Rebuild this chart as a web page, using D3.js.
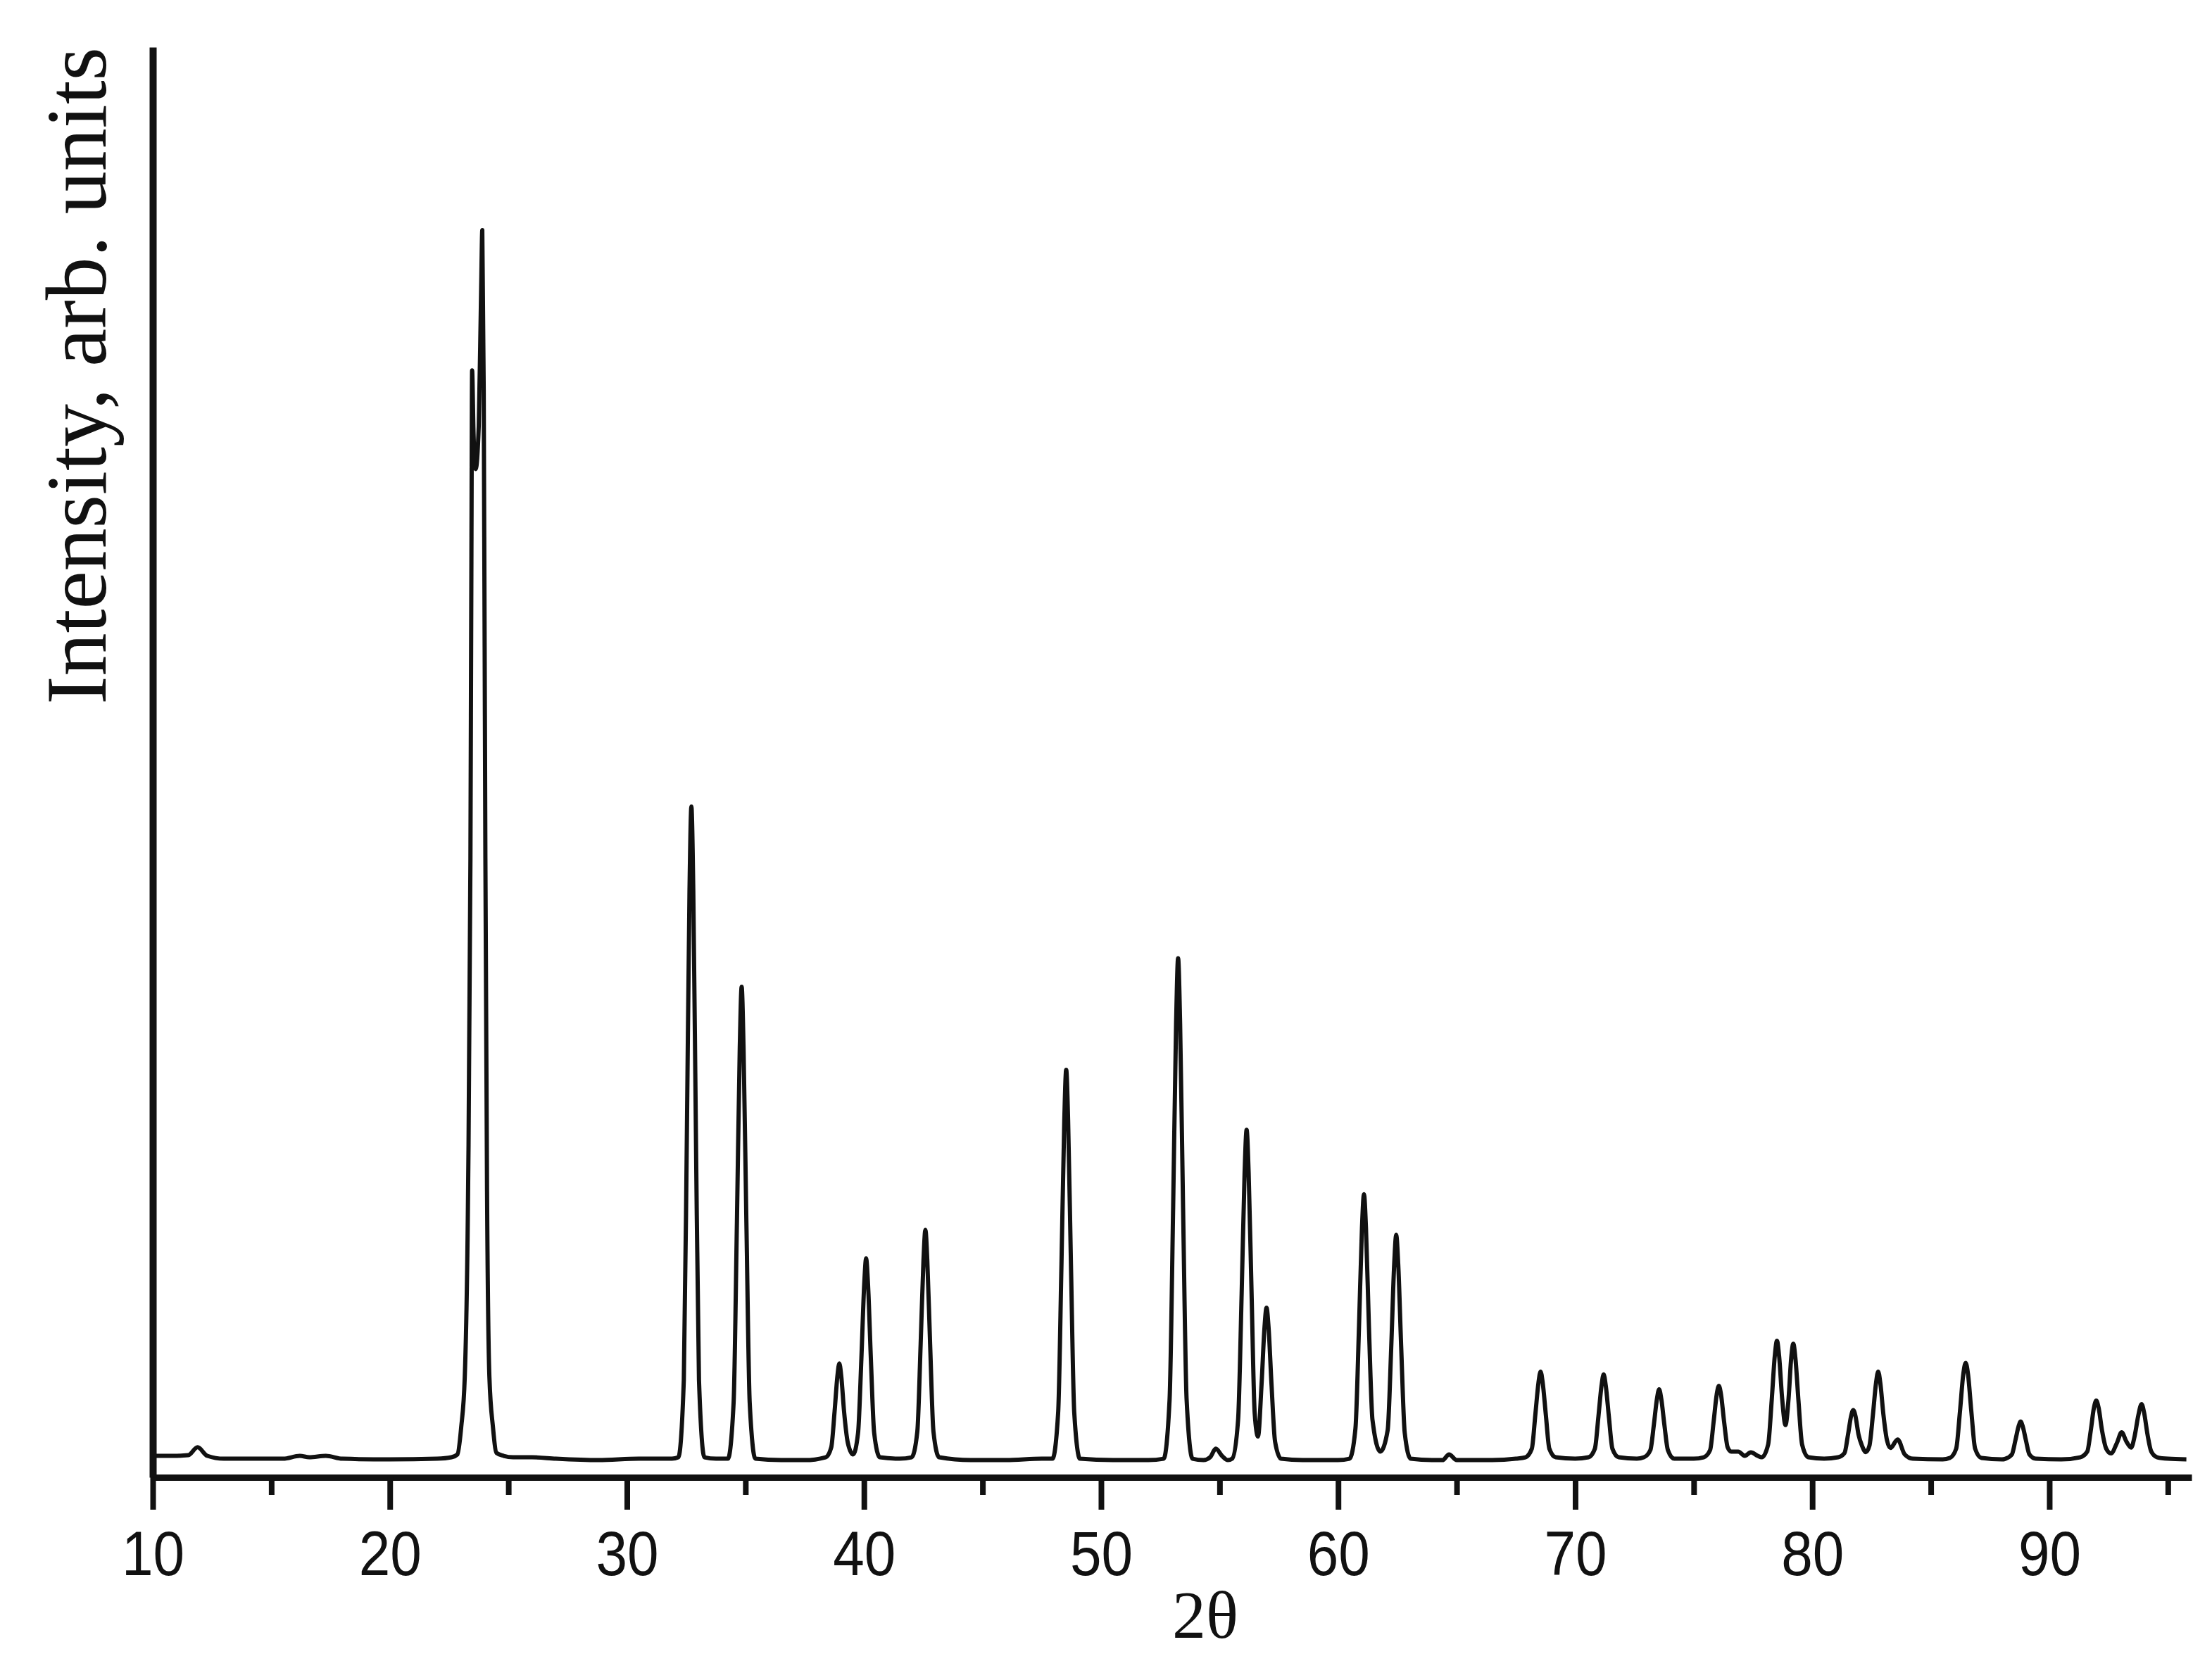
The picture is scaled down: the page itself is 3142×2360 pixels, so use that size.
<!DOCTYPE html>
<html>
<head>
<meta charset="utf-8">
<script src="https://cdn.jsdelivr.net/npm/d3@7"></script>
<style>
  html, body { margin: 0; padding: 0; background: #fff; }
  svg { display: block; }
</style>
</head>
<body>
<script>
// ---- data ----
const twoTheta = [
  10.00, 10.90, 11.50, 11.89, 12.30, 13.00, 14.50, 15.50, 16.20, 16.60, 17.30, 18.00, 20.00, 22.00, 22.60,
  22.85, 23.01, 23.16, 23.30, 23.40, 23.44, 23.47, 23.53, 23.62, 23.75, 23.85, 23.90, 23.96, 24.03, 24.10, 24.20, 24.35, 24.50, 24.80,
  25.20, 26.00, 27.00, 28.80, 30.50, 31.90,
  32.17, 32.40, 32.53, 32.64, 32.72, 32.80, 32.91, 33.04, 33.27, 33.76,
  34.26, 34.50, 34.64, 34.76, 34.84, 34.92, 35.04, 35.18, 35.42, 36.50, 37.50,
  38.38, 38.62, 38.76, 38.88, 38.96, 39.04, 39.16, 39.32, 39.54,
  39.75, 39.89, 40.01, 40.09, 40.17, 40.29, 40.43, 40.67, 41.50,
  42.01, 42.25, 42.39, 42.51, 42.59, 42.67, 42.79, 42.93, 43.17, 44.50, 46.00, 47.50,
  47.95, 48.19, 48.33, 48.45, 48.53, 48.61, 48.73, 48.87, 49.11, 50.50, 52.00,
  52.64, 52.89, 53.04, 53.165, 53.25, 53.335, 53.46, 53.61, 53.86, 54.32, 54.60, 54.84, 55.10, 55.35,
  55.53, 55.78, 55.93, 56.055, 56.14, 56.225, 56.35, 56.48, 56.62,
  56.77, 56.895, 56.98, 57.065, 57.19, 57.34, 57.59, 58.50, 60.00,
  60.48, 60.73, 60.88, 61.005, 61.09, 61.175, 61.30, 61.45, 61.78,
  62.09, 62.24, 62.365, 62.45, 62.535, 62.66, 62.81, 63.06, 64.00, 64.40, 64.68, 65.00, 66.50, 67.50,
  67.90, 68.17, 68.32, 68.45, 68.54, 68.63, 68.76, 68.91, 69.18, 70.00,
  70.56, 70.83, 70.98, 71.11, 71.20, 71.29, 71.42, 71.57, 71.84, 72.60,
  72.90, 73.17, 73.32, 73.45, 73.54, 73.63, 73.76, 73.91, 74.18, 75.00,
  75.42, 75.69, 75.84, 75.97, 76.06, 76.15, 76.28, 76.43, 76.58, 76.88, 77.15, 77.41, 77.70,
  77.87, 78.14, 78.29, 78.42, 78.51, 78.60, 78.73, 78.87, 79.00, 79.11, 79.20, 79.29, 79.42, 79.57, 79.84, 80.50,
  81.09, 81.36, 81.51, 81.64, 81.73, 81.82, 81.95, 82.10, 82.26,
  82.41, 82.56, 82.69, 82.78, 82.87, 83.00, 83.15, 83.30, 83.60, 83.90, 84.24, 85.50,
  85.80, 86.07, 86.23, 86.37, 86.47, 86.57, 86.71, 86.87, 87.14, 88.00,
  88.15, 88.42, 88.57, 88.70, 88.79, 88.88, 89.01, 89.16, 89.43, 90.50,
  91.30, 91.60, 91.75, 91.88, 91.98, 92.08, 92.22, 92.40, 92.60, 92.85, 93.05, 93.25, 93.45,
  93.60, 93.75, 93.89, 94.00, 94.14, 94.30, 94.55, 95.00, 95.78
];
const intensity = [
  15, 15, 15.5, 21, 15, 13, 13, 13, 15, 14, 15, 13, 12.5, 13, 14,
  16, 35, 70, 200, 433, 640, 774, 730, 705, 735, 830, 872, 760, 433, 200, 70, 35, 17, 15,
  14, 14, 13, 12, 13, 13,
  14, 68, 241, 410, 469, 410, 241, 68, 14, 13,
  13, 52, 178, 300, 343, 300, 178, 52, 13, 12, 12,
  14, 21, 46, 71, 79.6, 71, 46, 24, 16,
  31, 83, 135, 153, 135, 83, 31, 14, 13,
  14, 32, 93, 152, 173, 152, 93, 32, 14, 12, 12, 13,
  13, 45, 149, 250, 285, 250, 149, 45, 13, 12, 12,
  13, 54, 188, 317, 363, 317, 188, 54, 13, 12, 14, 20, 15, 12,
  13, 40, 128, 213, 243, 213, 128, 45, 28.5,
  65, 105, 118.6, 105, 65, 25, 13, 12, 12,
  13, 34, 105, 174, 198, 174, 105, 40, 18,
  33, 91, 149, 169.5, 149, 91, 31, 13, 12, 12, 16, 12, 12, 13,
  14, 20, 44, 66, 74, 66, 44, 20, 14, 13,
  14, 20, 42.5, 64, 72, 64, 42.5, 20, 14, 13,
  14, 19, 37, 55, 61.5, 55, 37, 19, 13, 13,
  14, 19, 39, 58, 64, 58, 39, 21, 18, 18, 15, 17.5, 15,
  14, 23, 54, 85, 95.5, 85, 55, 36.5, 55, 83, 93.4, 83, 53, 23, 14, 13,
  14, 17, 30, 43, 47, 43, 30, 22, 17.6,
  22, 44, 66, 74, 66, 44, 26, 20.5, 26.5, 16, 13, 12.5,
  13.5, 20, 46, 72, 80, 72, 46, 20, 13.5, 12.5,
  13, 16, 26, 35.5, 39, 35.5, 26, 16, 13, 12.5,
  14, 18, 33, 48.5, 53.6, 48.5, 33, 20, 16.7, 24, 31.5, 25, 20.8,
  29, 43, 51.2, 45, 30, 18, 14, 13, 12.6
];
const majorTicks = [10, 20, 30, 40, 50, 60, 70, 80, 90];
const minorTicks = [15, 25, 35, 45, 55, 65, 75, 85, 95];
const xTitle = "2θ";
const yTitle = "Intensity, arb. units";

// ---- drawing ----
const W = 3142, H = 2360;
const svg = d3.select("body").append("svg")
  .attr("width", W).attr("height", H)
  .attr("viewBox", `0 0 ${W} ${H}`);
svg.append("rect").attr("width", W).attr("height", H).attr("fill", "#fff");

const x = d3.scaleLinear().domain([10, 96]).range([217, 3113]);
const y = d3.scaleLinear().domain([0, 1000]).range([2099, 67]);

const pts = twoTheta.map((t, i) => [t, intensity[i]]);

// trace
svg.append("path")
  .datum(pts)
  .attr("fill", "none")
  .attr("stroke", "#111")
  .attr("stroke-width", 6)
  .attr("stroke-linejoin", "round")
  .attr("d", d3.line().x(d => x(d[0])).y(d => y(d[1])).curve(d3.curveMonotoneX));

// minor ticks
const minorAxis = d3.axisBottom(x).tickValues(minorTicks).tickSize(25).tickSizeOuter(0).tickFormat("");
const gMinor = svg.append("g").attr("transform", `translate(0,${y(0)})`).call(minorAxis);
gMinor.select(".domain").remove();
gMinor.selectAll(".tick line").attr("stroke", "#111").attr("stroke-width", 8);

// major ticks + labels
const majorAxis = d3.axisBottom(x).tickValues(majorTicks).tickSize(46).tickSizeOuter(0).tickPadding(30).tickFormat(d3.format("d"));
const gMajor = svg.append("g").attr("transform", `translate(0,${y(0)})`).call(majorAxis);
gMajor.select(".domain").attr("stroke", "#111").attr("stroke-width", 9);
gMajor.selectAll(".tick line").attr("stroke", "#111").attr("stroke-width", 8);
gMajor.selectAll(".tick text")
  .attr("fill", "#111")
  .style("font-family", "Arial, 'Liberation Sans', sans-serif")
  .style("font-size", "89px")
  .attr("transform", "scale(0.9,1)");

// y axis (line only)
const yAxis = d3.axisLeft(y).tickValues([]).tickSizeOuter(0);
const gY = svg.append("g").attr("transform", `translate(${x(10)},0)`).call(yAxis);
gY.select(".domain").attr("stroke", "#111").attr("stroke-width", 10);

// titles
svg.append("text")
  .attr("x", 1712).attr("y", 2327)
  .attr("text-anchor", "middle")
  .attr("fill", "#111")
  .style("font-family", "'Times New Roman', 'Liberation Serif', serif")
  .style("font-size", "96px")
  .text(xTitle);

svg.append("text")
  .attr("transform", `translate(150,67) rotate(-90)`)
  .attr("text-anchor", "end")
  .attr("fill", "#111")
  .style("font-family", "'Times New Roman', 'Liberation Serif', serif")
  .style("font-size", "122px")
  .text(yTitle);
</script>
</body>
</html>
